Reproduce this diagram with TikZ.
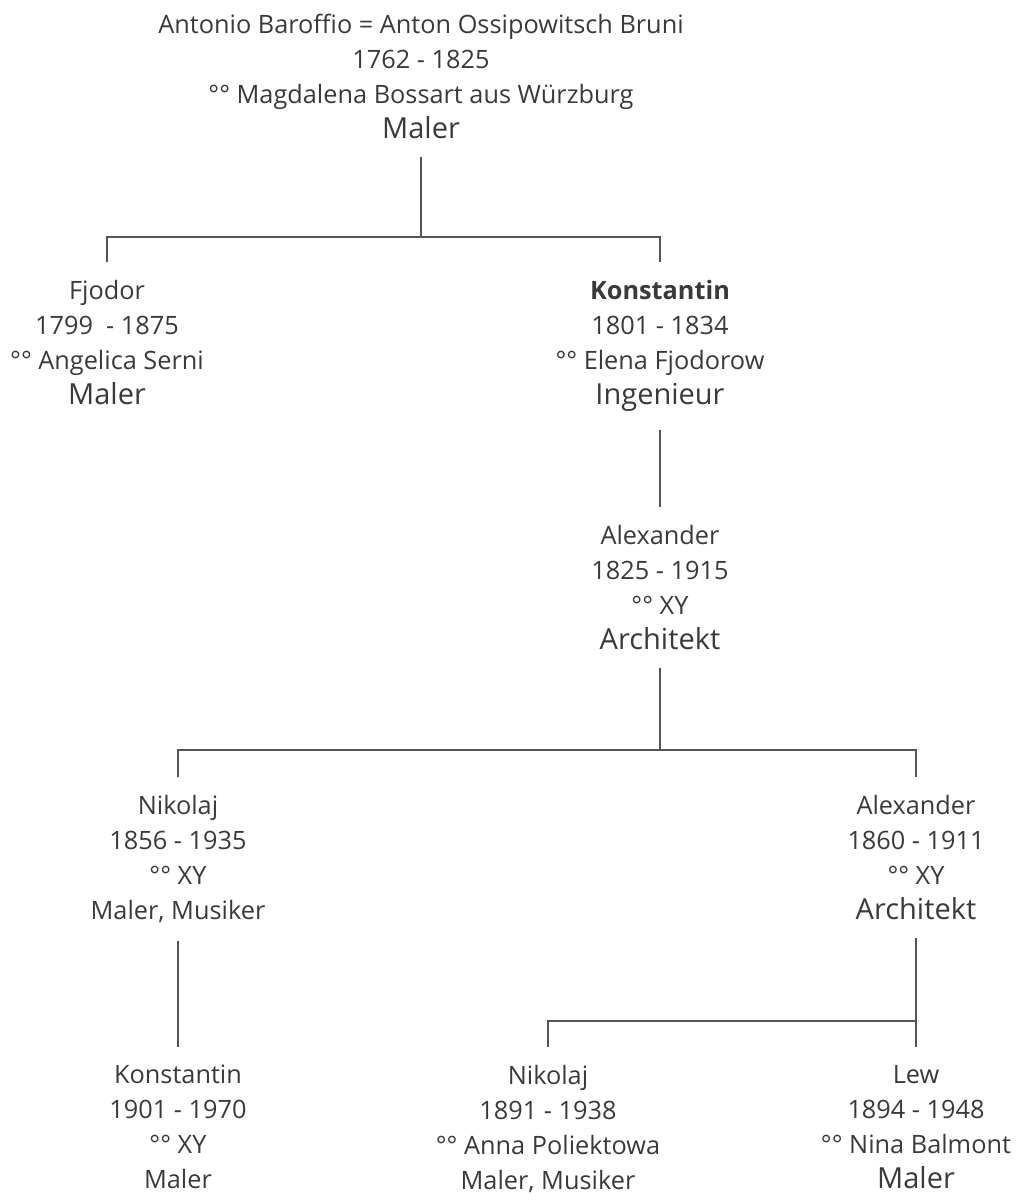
\documentclass[tikz,border=0pt]{standalone}
\usepackage{fontspec}
\setmainfont{Open Sans}
\usepackage{tikz}

\definecolor{schrift}{HTML}{3A3A3A}
\definecolor{linie}{HTML}{555555}

\newcommand{\beruf}[1]{{\fontsize{29}{35}\selectfont #1}}

\tikzset{
  person/.style = {align=center, inner xsep=0pt, inner ysep=18pt,
    text=schrift, font=\fontsize{25.3}{35}\selectfont},
  linie/.style = {draw=linie, line width=1.3pt}
}

\begin{document}
\begin{tikzpicture}[x=1pt, y=-1pt]
  \useasboundingbox (0,0) rectangle (1018,1200);

  % Generation 1
  \node[person, anchor=north] (baroffio) at (421,-4)
    {Antonio Baroffio = Anton Ossipowitsch Bruni\\ 1762 - 1825\\
     °° Magdalena Bossart aus Würzburg\\ \beruf{Maler}};

  % Generation 2
  \node[person, anchor=north] (fjodor) at (107,262)
    {Fjodor\\ 1799~ - 1875\\ °° Angelica Serni\\ \beruf{Maler}};
  \node[person, anchor=north] (konst) at (660,262)
    {\textbf{Konstantin}\\ 1801 - 1834\\ °° Elena Fjodorow\\ \beruf{Ingenieur}};

  % Generation 3
  \node[person, anchor=north] (alex) at (660,507)
    {Alexander\\ 1825 - 1915\\ °° XY\\ \beruf{Architekt}};

  % Generation 4
  \node[person, anchor=north] (nikolaj) at (178,777)
    {Nikolaj\\ 1856 - 1935\\ °° XY\\ Maler, Musiker};
  \node[person, anchor=north] (alexjr) at (916,777)
    {Alexander\\ 1860 - 1911\\ °° XY\\ \beruf{Architekt}};

  % Generation 5
  \node[person, anchor=north] (konstjr) at (178,1047)
    {Konstantin\\ 1901 - 1970\\ °° XY\\ Maler};
  \node[person, anchor=north] (nikjr) at (548,1047)
    {Nikolaj\\ 1891 - 1938\\ °° Anna Poliektowa\\ Maler, Musiker};
  \node[person, anchor=north] (lew) at (916,1047)
    {Lew\\ 1894 - 1948\\ °° Nina Balmont\\ \beruf{Maler}};

  % Verbindungen
  \coordinate (g1) at (421,237);
  \coordinate (g3) at (660,750);
  \coordinate (g4) at (916,1021);

  \draw[linie] (baroffio) -- (g1);
  \draw[linie] (fjodor) |- (g1) -| (konst);
  \draw[linie] (konst) -- (alex);
  \draw[linie] (alex) -- (g3);
  \draw[linie] (nikolaj) |- (g3) -| (alexjr);
  \draw[linie] (nikolaj) -- (konstjr);
  \draw[linie] (alexjr) -- (lew);
  \draw[linie] (nikjr) |- (g4);
\end{tikzpicture}
\end{document}
